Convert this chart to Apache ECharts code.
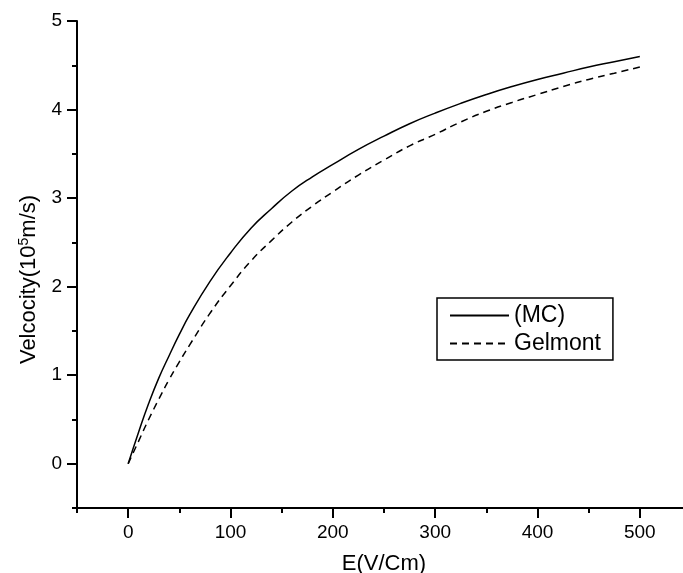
<!DOCTYPE html>
<html>
<head>
<meta charset="utf-8">
<script src="https://cdn.jsdelivr.net/npm/echarts@6/dist/echarts.min.js"></script>
<style>
  html, body { margin: 0; padding: 0; background: #fff; }
  #main { width: 683px; height: 573px; }
</style>
</head>
<body>
<div id="main"></div>
<script>
// 电场 E (V/Cm)
var fieldE = [0, 10, 20, 30, 40, 50, 60, 80, 100, 120, 140, 160, 180, 200,
  225, 250, 275, 300, 325, 350, 375, 400, 425, 450, 475, 500];
// (MC) 速度, 10^5 m/s
var velMC = [0, 0.35, 0.68, 0.97, 1.22, 1.46, 1.68, 2.06, 2.38, 2.66, 2.88, 3.08, 3.24, 3.38,
  3.55, 3.70, 3.84, 3.96, 4.07, 4.17, 4.26, 4.34, 4.41, 4.48, 4.54, 4.60];
// Gelmont
var velGelmont = [0, 0.25, 0.50, 0.73, 0.95, 1.15, 1.34, 1.70, 2.01, 2.29, 2.52, 2.73, 2.91, 3.07,
  3.26, 3.43, 3.59, 3.72, 3.86, 3.98, 4.08, 4.17, 4.26, 4.34, 4.41, 4.48];

var xMajor = [0, 100, 200, 300, 400, 500];
var xMinor = [-50, 50, 150, 250, 350, 450, 550];
var yMajor = [0, 1, 2, 3, 4, 5];
var yMinor = [-0.5, 0.5, 1.5, 2.5, 3.5, 4.5];

function pairs(xs, ys) {
  var out = [];
  for (var i = 0; i < xs.length; i++) out.push([xs[i], ys[i]]);
  return out;
}

var font = 'Liberation Sans, Arial, sans-serif';
var myChart = echarts.init(document.getElementById('main'));

var option = {
  animation: false,
  backgroundColor: '#fff',
  grid: { left: 77, top: 21, width: 614, height: 487, containLabel: false, outerBoundsMode: 'none' },
  legend: {
    left: 437, top: 298,
    orient: 'vertical',
    itemWidth: 59, itemHeight: 14, itemGap: 5,
    padding: [6, 12, 5, 12],
    borderColor: '#000', borderWidth: 1.5, borderRadius: 0,
    itemStyle: { opacity: 0 },
    textStyle: { fontFamily: font, fontSize: 23, color: '#000' },
    data: ['(MC)', 'Gelmont']
  },
  xAxis: [{
    type: 'value', min: -50, max: 550,
    name: 'E(V/Cm)', nameLocation: 'middle', nameGap: 45,
    nameTextStyle: { fontFamily: font, fontSize: 22, color: '#000' },
    splitLine: { show: false },
    axisLine: { show: true, onZero: false, lineStyle: { color: '#000', width: 2 } },
    axisTick: { show: true, customValues: xMajor, length: 10, lineStyle: { color: '#000', width: 2 } },
    axisLabel: { customValues: xMajor, margin: 15, fontFamily: font, fontSize: 19, color: '#000' }
  }, {
    type: 'value', min: -50, max: 550, position: 'bottom',
    splitLine: { show: false },
    axisLine: { show: false, onZero: false },
    axisTick: { show: true, customValues: xMinor, length: 5, lineStyle: { color: '#000', width: 2 } },
    axisLabel: { show: false }
  }],
  yAxis: [{
    type: 'value', min: -0.5, max: 5,
    name: '{a|Velcocity(10}{s|5}{a|m/s)}', nameLocation: 'middle', nameGap: 36,
    nameTextStyle: {
      padding: [0, 30, 0, 0],
      rich: {
        a: { fontFamily: font, fontSize: 22, color: '#000' },
        s: { fontFamily: font, fontSize: 14, color: '#000', padding: [0, 0, 10, 0] }
      }
    },
    splitLine: { show: false },
    axisLine: { show: true, onZero: false, lineStyle: { color: '#000', width: 2 } },
    axisTick: { show: true, customValues: yMajor, length: 10, lineStyle: { color: '#000', width: 2 } },
    axisLabel: { customValues: yMajor, margin: 15, fontFamily: font, fontSize: 19, color: '#000' }
  }, {
    type: 'value', min: -0.5, max: 5, position: 'left',
    splitLine: { show: false },
    axisLine: { show: false, onZero: false },
    axisTick: { show: true, customValues: yMinor, length: 5, lineStyle: { color: '#000', width: 2 } },
    axisLabel: { show: false }
  }],
  series: [{
    name: '(MC)', type: 'line', xAxisIndex: 0, yAxisIndex: 0,
    showSymbol: false, symbol: 'none', smooth: true,
    lineStyle: { color: '#000', width: 1.5, type: 'solid' },
    itemStyle: { color: '#000' },
    data: pairs(fieldE, velMC)
  }, {
    name: 'Gelmont', type: 'line', xAxisIndex: 0, yAxisIndex: 0,
    showSymbol: false, symbol: 'none', smooth: true,
    lineStyle: { color: '#000', width: 1.5, type: [7, 5] },
    itemStyle: { color: '#000' },
    data: pairs(fieldE, velGelmont)
  }]
};
myChart.setOption(option);
</script>
</body>
</html>
